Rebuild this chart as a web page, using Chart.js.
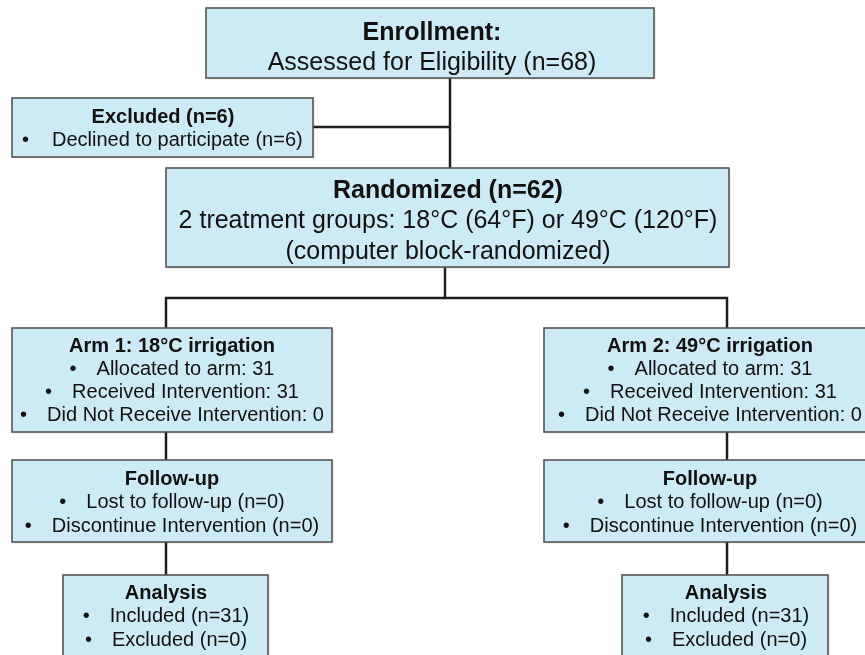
<!DOCTYPE html>
<html>
<head>
<meta charset="utf-8">
<script src="https://cdn.jsdelivr.net/npm/chart.js@4"></script>
<style>
  html, body { margin: 0; padding: 0; background: #ffffff; }
  #wrap { width: 865px; height: 655px; }
</style>
</head>
<body>
<div id="wrap"><canvas id="consortChart"></canvas></div>
<script>
// Flow data (CONSORT diagram)
var boxTitles = [
  'Enrollment:', 'Excluded (n=6)', 'Randomized (n=62)',
  'Arm 1: 18°C irrigation', 'Arm 2: 49°C irrigation',
  'Follow-up', 'Follow-up', 'Analysis', 'Analysis'
];
var boxLines = [
  ['Assessed for Eligibility (n=68)'],
  ['Declined to participate (n=6)'],
  ['2 treatment groups: 18°C (64°F) or 49°C (120°F)', '(computer block-randomized)'],
  ['Allocated to arm: 31', 'Received Intervention: 31', 'Did Not Receive Intervention: 0'],
  ['Allocated to arm: 31', 'Received Intervention: 31', 'Did Not Receive Intervention: 0'],
  ['Lost to follow-up (n=0)', 'Discontinue Intervention (n=0)'],
  ['Lost to follow-up (n=0)', 'Discontinue Intervention (n=0)'],
  ['Included (n=31)', 'Excluded (n=0)'],
  ['Included (n=31)', 'Excluded (n=0)']
];
var boxBullets = ['none', 'left', 'none', 'center', 'center', 'center', 'center', 'center', 'center'];

// layout, in diagram units: [x0, y0, x1, y1, firstLineY, lineHeight, fontSize, textCenterX]
var boxLayout = [
  [206, 8, 654, 78, 33, 30, 25, 432],
  [12, 98, 313, 157, 117, 23, 20, 163],
  [166, 168, 729, 267, 191, 30.5, 25, 448],
  [12, 328, 332, 432, 346, 23.3, 20, 172],
  [544, 328, 876, 432, 346, 23.3, 20, 710],
  [12, 460, 332, 542, 479, 23.5, 20, 172],
  [544, 460, 876, 542, 479, 23.5, 20, 710],
  [63, 575, 268, 680, 593, 23.5, 20, 166],
  [622, 575, 828, 680, 593, 23.5, 20, 726]
];

// connector polylines between boxes
var connectors = [
  [{x: 450, y: 78}, {x: 450, y: 168}],
  [{x: 313, y: 127}, {x: 450, y: 127}],
  [{x: 445, y: 267}, {x: 445, y: 298}],
  [{x: 166, y: 328}, {x: 166, y: 298}, {x: 727, y: 298}, {x: 727, y: 328}],
  [{x: 166, y: 432}, {x: 166, y: 460}],
  [{x: 166, y: 542}, {x: 166, y: 575}],
  [{x: 727, y: 432}, {x: 727, y: 460}],
  [{x: 727, y: 542}, {x: 727, y: 575}]
];

var FONT = '"Liberation Sans", Arial, sans-serif';

var flowBoxes = {
  id: 'flowBoxes',
  afterDatasetsDraw: function (chart) {
    var ctx = chart.ctx;
    var xs = chart.scales.x;
    var ys = chart.scales.y;
    ctx.save();
    boxLayout.forEach(function (b, i) {
      var x0 = xs.getPixelForValue(b[0]);
      var y0 = ys.getPixelForValue(b[1]);
      var x1 = xs.getPixelForValue(b[2]);
      var y1 = ys.getPixelForValue(b[3]);
      // box with a faint shadow
      ctx.fillStyle = 'rgba(0,0,0,0.12)';
      ctx.fillRect(x0 + 1.5, y0 + 1.5, x1 - x0, y1 - y0);
      ctx.fillStyle = '#cdebf6';
      ctx.fillRect(x0, y0, x1 - x0, y1 - y0);
      ctx.strokeStyle = '#555555';
      ctx.lineWidth = 1.6;
      ctx.strokeRect(x0, y0, x1 - x0, y1 - y0);

      var size = b[6];
      var cx = xs.getPixelForValue(b[7]);
      var ty = ys.getPixelForValue(b[4]);
      var lh = b[5];
      ctx.fillStyle = '#111111';
      ctx.textBaseline = 'middle';

      // title
      ctx.font = 'bold ' + size + 'px ' + FONT;
      ctx.textAlign = 'center';
      ctx.fillText(boxTitles[i], cx, ty);

      ctx.font = size + 'px ' + FONT;
      boxLines[i].forEach(function (line, j) {
        var y = ty + lh * (j + 1);
        if (boxBullets[i] === 'none') {
          ctx.textAlign = 'center';
          ctx.fillText(line, cx, y);
        } else if (boxBullets[i] === 'left') {
          ctx.textAlign = 'left';
          ctx.fillText('\u2022', x0 + 10, y);
          ctx.fillText(line, x0 + 40, y);
        } else {
          var bw = ctx.measureText('\u2022').width;
          var gap = 20;
          var tw = ctx.measureText(line).width;
          var start = cx - (bw + gap + tw) / 2;
          ctx.textAlign = 'left';
          ctx.fillText('\u2022', start, y);
          ctx.fillText(line, start + bw + gap, y);
        }
      });
    });
    ctx.restore();
  }
};

var ctx = document.getElementById('consortChart').getContext('2d');
var chart = new Chart(ctx, {
  type: 'scatter',
  data: {
    datasets: connectors.map(function (pts) {
      return {
        data: pts,
        showLine: true,
        borderColor: '#1e1e1e',
        borderWidth: 2.5,
        pointRadius: 0,
        fill: false,
        tension: 0
      };
    })
  },
  options: {
    responsive: true,
    maintainAspectRatio: false,
    animation: false,
    layout: { padding: 0 },
    plugins: {
      legend: { display: false },
      tooltip: { enabled: false }
    },
    scales: {
      x: { type: 'linear', min: 0, max: 865, display: false },
      y: { type: 'linear', min: 0, max: 655, reverse: true, display: false }
    }
  },
  plugins: [flowBoxes]
});
</script>
</body>
</html>
